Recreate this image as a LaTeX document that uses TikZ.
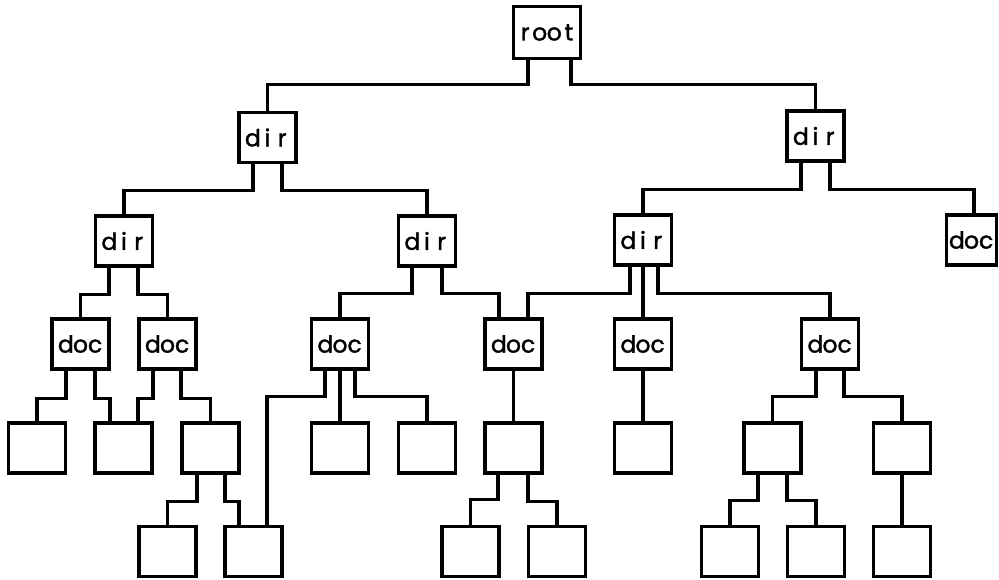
\documentclass[tikz,border=0pt]{standalone}
\usepackage{fontspec}
\newfontfamily\boxfont{Poppins}[FakeBold=1.5]
\newcommand\ch[1]{\makebox[14.6pt][c]{#1}}
\tikzset{
  bx/.style={draw=black, line width=3.2pt, fill=white, minimum width=57pt, minimum height=50pt,
    inner sep=0pt, font=\boxfont\fontsize{23.5}{27}\selectfont},
  wire/.style={draw=black, line width=3.2pt, line cap=rect}
}
\newcommand\link[5]{\draw[wire] ([xshift=#2pt]#1.south) -- ++(0,#3) -| ([xshift=#5pt]#4.north);}
\begin{document}
\begin{tikzpicture}[x=1pt,y=-1pt]
\useasboundingbox (0,0) rectangle (999,580);
% level 0
\node[bx, minimum width=67pt, minimum height=52pt] (root) at (547,32.5) {\ch{r}\ch{o}\ch{o}\ch{t}};
% level 1
\node[bx] (dirA) at (267.5,137.5) {\ch{d}\ch{i}\ch{r}};
\node[bx] (dirB) at (815.5,136) {\ch{d}\ch{i}\ch{r}};
% level 2
\node[bx] (dirC) at (124,241) {\ch{d}\ch{i}\ch{r}};
\node[bx] (dirD) at (427,241) {\ch{d}\ch{i}\ch{r}};
\node[bx] (dirE) at (643,240) {\ch{d}\ch{i}\ch{r}};
\node[bx, minimum width=50pt] (docR) at (971.5,240) {\ch{d}\ch{o}\ch{c}};
% level 3
\node[bx] (doc1) at (80.5,344) {\ch{d}\ch{o}\ch{c}};
\node[bx] (doc2) at (167.5,344) {\ch{d}\ch{o}\ch{c}};
\node[bx] (doc3) at (340,344) {\ch{d}\ch{o}\ch{c}};
\node[bx] (doc4) at (513.5,344) {\ch{d}\ch{o}\ch{c}};
\node[bx] (doc5) at (643,344) {\ch{d}\ch{o}\ch{c}};
\node[bx] (doc6) at (830,344) {\ch{d}\ch{o}\ch{c}};
% level 4
\node[bx] (a) at (37,448) {};
\node[bx] (b) at (123.5,448) {};
\node[bx] (c) at (210.5,448) {};
\node[bx] (d) at (340,448) {};
\node[bx] (e) at (427,448) {};
\node[bx] (f) at (513.5,448) {};
\node[bx] (g) at (643,448) {};
\node[bx] (h) at (772.5,448) {};
\node[bx] (i) at (902,448) {};
% level 5
\node[bx] (j) at (167.5,551.5) {};
\node[bx] (k) at (253.5,551.5) {};
\node[bx] (l) at (470.5,551.5) {};
\node[bx] (m) at (557,551.5) {};
\node[bx] (n) at (730,551.5) {};
\node[bx] (o) at (816,551.5) {};
\node[bx] (p) at (902,551.5) {};
% connectors
\link{root}{-19}{24.5}{dirA}{0}
\link{root}{24}{24.5}{dirB}{0}
\link{dirA}{-14.5}{26.5}{dirC}{0}
\link{dirA}{14.5}{26.5}{dirD}{0}
\link{dirB}{-14.5}{27}{dirE}{0}
\link{dirB}{14.5}{27}{docR}{2.5}
\link{dirC}{-15}{27}{doc1}{0}
\link{dirC}{14}{27}{doc2}{0}
\link{dirD}{-15}{26}{doc3}{0}
\link{dirD}{15}{26}{doc4}{-14.5}
\link{dirE}{-13}{27}{doc4}{14.5}
\draw[wire] (dirE.south) -- (doc5.north);
\link{dirE}{15}{27}{doc6}{0}
\link{doc1}{-14.5}{28}{a}{0}
\link{doc1}{14.5}{28}{b}{-13.5}
\link{doc2}{-14.5}{28}{b}{14.5}
\link{doc2}{13.5}{28}{c}{0}
\link{doc3}{-15}{26}{k}{13.5}
\draw[wire] (doc3.south) -- (d.north);
\link{doc3}{15}{26}{e}{0}
\draw[wire] (doc4.south) -- (f.north);
\draw[wire] (doc5.south) -- (g.north);
\link{doc6}{-14}{26}{h}{0}
\link{doc6}{14}{26}{i}{0}
\link{c}{-13.5}{27}{j}{0}
\link{c}{14.5}{27}{k}{-14.5}
\link{f}{-15.5}{25}{l}{0}
\link{f}{14.5}{27}{m}{0}
\link{h}{-14.5}{26}{n}{0}
\link{h}{14.5}{26}{o}{0}
\draw[wire] (i.south) -- (p.north);
\end{tikzpicture}
\end{document}
